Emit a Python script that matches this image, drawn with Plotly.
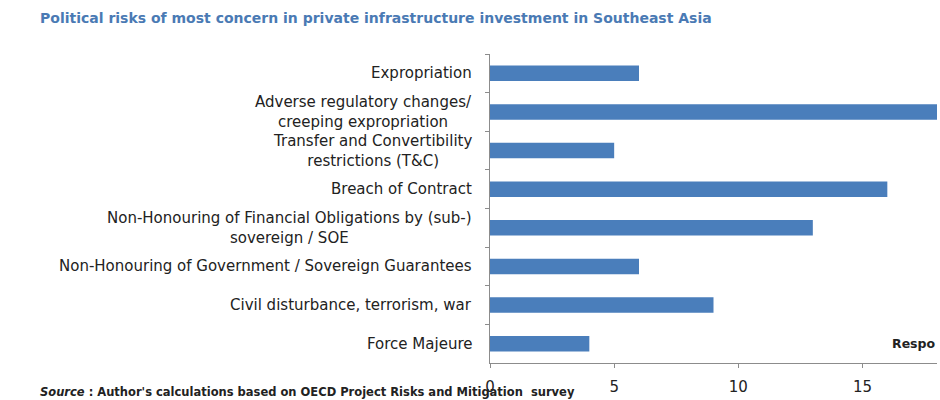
import plotly.graph_objects as go

# Survey responses: political risks of most concern (top to bottom as drawn)
risks = [
    "Expropriation",
    "Adverse regulatory changes/<br>creeping expropriation",
    "Transfer and Convertibility<br>restrictions (T&C)",
    "Breach of Contract",
    "Non-Honouring of Financial Obligations by (sub-)<br>sovereign / SOE",
    "Non-Honouring of Government / Sovereign Guarantees",
    "Civil disturbance, terrorism, war",
    "Force Majeure",
]
responses = [6, 18, 5, 16, 13, 6, 9, 4]
x_ticks = [0, 5, 10, 15]

title_text = "Political risks of most concern in private infrastructure investment in Southeast Asia"
source_text = "<i>Source</i> : Author's calculations based on OECD Project Risks and Mitigation  survey"
axis_title = "Respo"

BAR = "#4a7ebb"
AXIS = "#8c8c8c"
FONT = "DejaVu Sans"

fig = go.Figure(
    go.Bar(
        x=responses,
        y=risks,
        orientation="h",
        marker=dict(color=BAR, line=dict(width=0)),
        width=0.4,
    )
)

# Category labels, centred line-by-line and right-aligned against the axis
annotations = []
for r in risks:
    annotations.append(dict(
        x=0, xref="paper", y=r, yref="y",
        text=r, showarrow=False, xanchor="right", yanchor="middle",
        align="center", xshift=-16,
        font=dict(family=FONT, size=15, color="#222222"),
    ))

left = (38 - 490) / 447
annotations += [
    dict(x=left, xref="paper", y=1 + 36 / 309, yref="paper",
         text=title_text, showarrow=False, xanchor="left", yanchor="middle",
         font=dict(family=FONT, size=14, color="#4a7ab4", weight="bold")),
    dict(x=left, xref="paper", y=-29 / 309, yref="paper",
         text=source_text, showarrow=False, xanchor="left", yanchor="middle",
         font=dict(family=FONT, size=11.5, color="#222222", weight="bold")),
    dict(x=1, xref="paper", y=20 / 309, yref="paper",
         text=axis_title, showarrow=False, xanchor="right", yanchor="middle",
         font=dict(family=FONT, size=12.5, color="#222222", weight="bold")),
]

fig.update_layout(
    width=940, height=400,
    margin=dict(l=490, r=3, t=54, b=37),
    paper_bgcolor="white", plot_bgcolor="white",
    showlegend=False,
    annotations=annotations,
    xaxis=dict(
        range=[0, 18], tickvals=x_ticks, showgrid=False, zeroline=False,
        showline=True, linecolor=AXIS, linewidth=1,
        ticks="outside", ticklen=4, tickcolor=AXIS, ticklabelstandoff=6,
        tickfont=dict(family=FONT, size=15, color="#222222"),
        fixedrange=True,
    ),
    yaxis=dict(
        autorange="reversed", showgrid=False, zeroline=False,
        showline=True, linecolor=AXIS, linewidth=1,
        ticks="outside", ticklen=4, tickcolor=AXIS, tickson="boundaries",
        showticklabels=False, fixedrange=True,
    ),
)

fig.write_html("out.html")
